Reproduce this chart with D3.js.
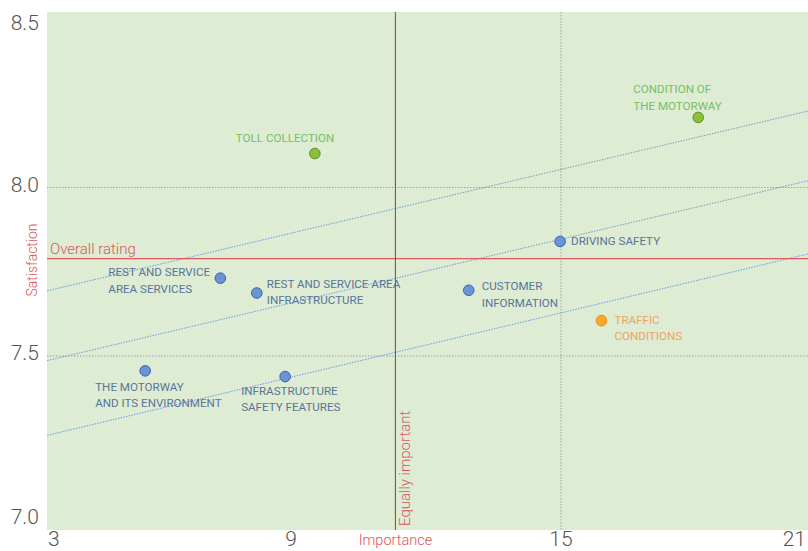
<!DOCTYPE html>
<html><head><meta charset="utf-8">
<script src="https://cdn.jsdelivr.net/npm/d3@7"></script>
<style>
body{margin:0;background:#fff;}
svg text{font-family:Roboto,"Helvetica Neue",Arial,sans-serif;}
</style></head>
<body><svg id="c" width="808" height="551"></svg>
<script>
// ---- data ----
const names = ["TOLL COLLECTION","CONDITION OF|THE MOTORWAY","DRIVING SAFETY","CUSTOMER|INFORMATION","TRAFFIC|CONDITIONS","REST AND SERVICE|AREA SERVICES","REST AND SERVICE AREA|INFRASTRUCTURE","THE MOTORWAY|AND ITS ENVIRONMENT","INFRASTRUCTURE|SAFETY FEATURES"];
const importance = [9.53, 18.05, 14.98, 12.95, 15.9, 7.43, 8.24, 5.76, 8.87];
const satisfaction = [8.101, 8.208, 7.840, 7.695, 7.605, 7.731, 7.687, 7.456, 7.439];
const groups = ["green","green","blue","blue","orange","blue","blue","blue","blue"];
const xTicks = [3, 9, 15, 21];
const yTicks = [7.0, 7.5, 8.0, 8.5];
const yGrid = [7.5, 8.0];
const xGrid = [15];
const overallRating = 7.789;
const equallyImportant = 11.32;
// trend lines: satisfaction at importance 3 and 21
const trendX = [3, 21];
const trendTop = [7.675, 8.243];
const trendMid = [7.468, 8.036];
const trendLow = [7.246, 7.819];

// ---- layout ----
const L = 47, R = 808, T = 12, B = 530;
const svg = d3.select("#c");
const x = d3.scaleLinear().domain([3.578, 20.489]).range([L, R]);
const y = d3.scaleLinear().domain([6.9837, 8.5208]).range([B, T]);

const colors = {
  blue:{fill:"#6995d8", stroke:"#3d62a6", text:"#5a7499"},
  green:{fill:"#8cbf3a", stroke:"#5e8c2a", text:"#79bf63"},
  orange:{fill:"#f8a928", stroke:"#e58a18", text:"#eea461"}
};
const red = "#d9575a";

svg.append("rect").attr("x",L).attr("y",T).attr("width",R-L).attr("height",B-T).attr("fill","#ddecd3");

svg.append("defs").append("clipPath").attr("id","clip")
  .append("rect").attr("x",L).attr("y",T).attr("width",R-L).attr("height",B-T);
const g = svg.append("g").attr("clip-path","url(#clip)");

// grid
g.selectAll(".yg").data(yGrid).join("line")
  .attr("x1",L).attr("x2",R).attr("y1",d=>y(d)).attr("y2",d=>y(d))
  .attr("stroke","#a0a6a0").attr("stroke-width",1).attr("stroke-dasharray","1.5,1.5");
g.selectAll(".xg").data(xGrid).join("line")
  .attr("y1",T).attr("y2",B).attr("x1",d=>x(d)).attr("x2",d=>x(d))
  .attr("stroke","#a0a6a0").attr("stroke-width",1).attr("stroke-dasharray","1.5,1.5");

// trend lines
const line = d3.line().x(d=>x(d[0])).y(d=>y(d[1]));
[trendTop, trendMid, trendLow].forEach(t=>{
  g.append("path").attr("d", line(trendX.map((v,i)=>[v,t[i]])))
   .attr("fill","none").attr("stroke","#6f9bd6").attr("stroke-width",1).attr("stroke-dasharray","1.5,1.2");
});

// reference lines
g.append("line").attr("x1",L).attr("x2",R).attr("y1",y(overallRating)).attr("y2",y(overallRating))
  .attr("stroke","#dc5a5e").attr("stroke-width",1.3);
g.append("line").attr("y1",T).attr("y2",B).attr("x1",x(equallyImportant)).attr("x2",x(equallyImportant))
  .attr("stroke","#a8323a").attr("stroke-width",1);

svg.append("text").attr("x",L+3).attr("y",y(overallRating)-5).attr("fill",red)
  .attr("font-size",15).attr("font-weight",300).text("Overall rating");
svg.append("text").attr("transform",`translate(${x(equallyImportant)+15},${B-4}) rotate(-90)`)
  .attr("fill",red).attr("font-size",15).attr("font-weight",300).text("Equally important");

// points
const pts = names.map((n,i)=>({n, xv:importance[i], yv:satisfaction[i], c:colors[groups[i]]}));
// label offsets relative to the point (in px)
const labOff = [[-79,-15],[-65,-28],[11,0],[13,-4],[13,-1],[-112,-6],[10,-9],[-50,16],[-44,14]];
pts.forEach((p,i)=>{
  const lines = p.n.split("|");
  const t = svg.append("text").attr("fill",p.c.text).attr("font-size",11.6).attr("font-weight",400)
    .attr("dominant-baseline","central");
  lines.forEach((s,j)=>{
    t.append("tspan").attr("x",x(p.xv)+labOff[i][0]).attr("y",y(p.yv)+labOff[i][1]+j*16.5).text(s);
  });
});
svg.selectAll("circle.pt").data(pts).join("circle")
  .attr("cx",d=>x(d.xv)).attr("cy",d=>y(d.yv)).attr("r",5.3)
  .attr("fill",d=>d.c.fill).attr("stroke",d=>d.c.stroke).attr("stroke-width",1);

// x tick labels
svg.selectAll("text.xt").data(xTicks).join("text")
  .attr("x",d=>x(d)).attr("y",545.5).attr("text-anchor","middle")
  .attr("fill","#555").attr("font-size",21).attr("font-weight",300).text(d=>d)
  .each(function(){
    const b=this.getBBox();
    if(b.x<48) d3.select(this).attr("x",+d3.select(this).attr("x")+(48-b.x));
    if(b.x+b.width>806) d3.select(this).attr("x",+d3.select(this).attr("x")-(b.x+b.width-806));
  });
// y tick labels
svg.selectAll("text.yt").data(yTicks).join("text")
  .attr("x",39).attr("y",d=>y(d)-3).attr("text-anchor","end").attr("dominant-baseline","central")
  .attr("fill","#555").attr("font-size",21).attr("font-weight",300).text(d=>d.toFixed(1))
  .each(function(){
    const b=this.getBBox(); const s=d3.select(this);
    if(b.y<11) s.attr("y",+s.attr("y")+(11-b.y));
    if(b.y+b.height>529) s.attr("y",+s.attr("y")-(b.y+b.height-529));
  });

svg.append("text").attr("x",x(equallyImportant)).attr("y",545).attr("text-anchor","middle")
  .attr("fill",red).attr("font-size",14.5).attr("font-weight",300).text("Importance");
svg.append("text").attr("transform",`translate(37,260) rotate(-90)`).attr("text-anchor","middle")
  .attr("fill",red).attr("font-size",14).attr("font-weight",300).text("Satisfaction");
</script></body></html>
